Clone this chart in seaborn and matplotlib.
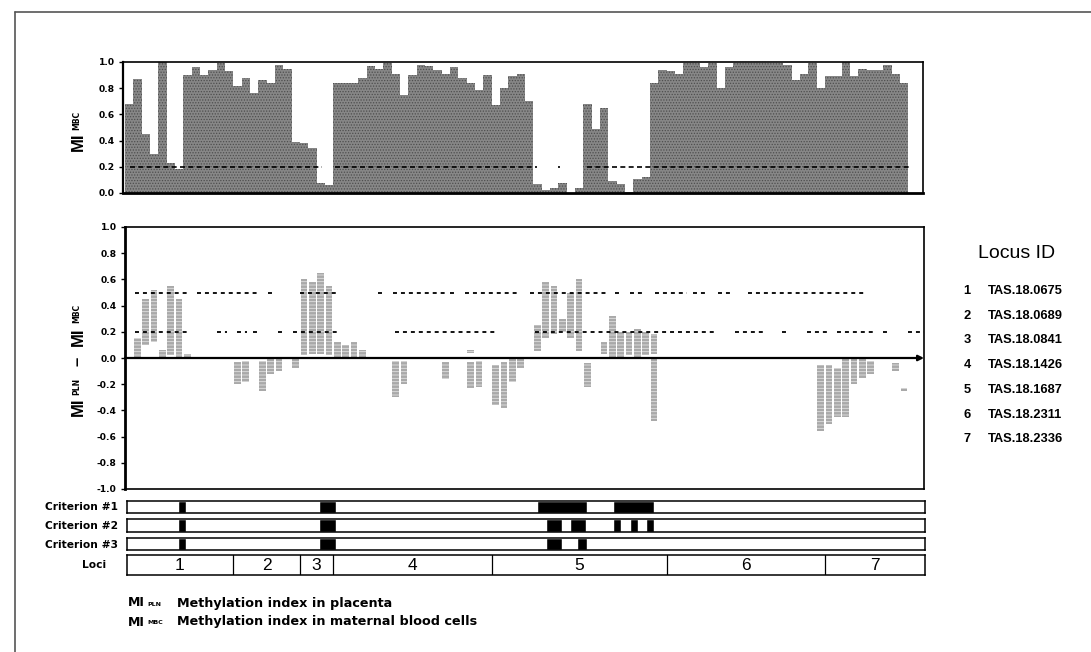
import matplotlib
matplotlib.use("Agg")
import matplotlib.pyplot as plt
import numpy as np
import pandas as pd
import seaborn as sns

sns.set_theme(style="white")
plt.rcParams["font.family"] = ["Liberation Sans", "DejaVu Sans"]
plt.rcParams["hatch.linewidth"] = 0.6
plt.rcParams["text.color"] = "black"
plt.rcParams["ytick.color"] = "black"
plt.rcParams["ytick.labelcolor"] = "black"

W, H = 1091, 652
SITE_PX = 8.333      # horizontal pixels per CpG site
X0_PX = 125          # pixel position of site 0

# ---------------------------------------------------------------- data
# methylation index in maternal blood cells, one value per CpG site
mi_mbc = [0.68, 0.87, 0.45, 0.30, 1.00, 0.23, 0.18, 0.90, 0.96, 0.90,
          0.94, 0.99, 0.93, 0.82, 0.88, 0.76, 0.86, 0.84, 0.98, 0.95,
          0.39, 0.38, 0.34, 0.08, 0.06, 0.84, 0.84, 0.84, 0.88, 0.97,
          0.95, 0.99, 0.91, 0.75, 0.90, 0.98, 0.97, 0.94, 0.91, 0.96,
          0.88, 0.84, 0.79, 0.90, 0.67, 0.80, 0.89, 0.91, 0.70, 0.07,
          0.02, 0.04, 0.08, 0.00, 0.04, 0.68, 0.49, 0.65, 0.09, 0.07,
          0.01, 0.11, 0.12, 0.84, 0.94, 0.93, 0.91, 0.99, 0.99, 0.96,
          0.99, 0.80, 0.96, 0.99, 0.99, 0.99, 0.99, 0.99, 0.99, 0.98,
          0.86, 0.91, 0.99, 0.80, 0.89, 0.89, 1.00, 0.89, 0.95, 0.94,
          0.94, 0.98, 0.91, 0.84, 0.00, 0.00]

# MI(PLN) - MI(MBC): spread of sample values at each site (site centre, low, high)
diff_site = [1.5, 2.5, 3.5, 4.5, 5.5, 6.5, 7.5,
             21.5, 22.5, 23.5, 24.5, 25.5, 26.5, 27.5, 28.5,
             41.5, 49.5, 50.5, 51.5, 52.5, 53.5, 54.5,
             57.5, 58.5, 59.5, 60.5, 61.5, 62.5, 63.5,
             13.5, 14.5, 16.5, 17.5, 18.5, 20.5,
             32.5, 33.5, 38.5, 41.5, 42.5, 44.5, 45.5, 46.5, 47.5,
             55.5, 63.5, 83.5, 84.5, 85.5, 86.5, 87.5, 88.5, 89.5, 92.5, 93.5]
diff_low = [0.01, 0.10, 0.12, 0.00, 0.02, 0.00, 0.00,
            0.02, 0.03, 0.03, 0.02, 0.00, 0.00, 0.00, 0.00,
            0.04, 0.05, 0.15, 0.18, 0.20, 0.15, 0.05,
            0.03, 0.00, 0.00, 0.02, 0.00, 0.02, 0.03,
            -0.20, -0.18, -0.25, -0.12, -0.10, -0.08,
            -0.30, -0.20, -0.16, -0.23, -0.22, -0.36, -0.38, -0.18, -0.08,
            -0.22, -0.48, -0.56, -0.50, -0.45, -0.45, -0.20, -0.15, -0.12, -0.10, -0.25]
diff_high = [0.15, 0.45, 0.52, 0.06, 0.55, 0.45, 0.03,
             0.60, 0.58, 0.65, 0.55, 0.12, 0.10, 0.12, 0.06,
             0.06, 0.25, 0.58, 0.55, 0.30, 0.50, 0.60,
             0.12, 0.32, 0.20, 0.20, 0.22, 0.20, 0.18,
             -0.03, -0.02, -0.02, -0.01, 0.00, -0.01,
             -0.02, -0.02, -0.03, -0.03, -0.02, -0.05, -0.03, -0.01, -0.01,
             -0.04, -0.01, -0.05, -0.05, -0.08, 0.00, 0.00, -0.01, -0.02, -0.04, -0.23]

# cut-off of 0.2 for MI(MBC): site spans where it applies
mbc_cut_spans = [(0.6, 23.6), (25.2, 49.4), (52.0, 52.25), (55.4, 94.4)]
# cut-offs 0.5 and 0.2 for the difference
diff_cut05_spans = [(1.2, 7.4), (8.6, 16.2), (17.2, 17.6), (21.0, 25.4), (30.4, 30.8),
                    (32.2, 38.7), (39.0, 39.8), (40.8, 47.0), (48.6, 57.9), (58.8, 59.4),
                    (60.6, 62.2), (63.6, 67.4), (68.2, 69.8), (71.2, 72.6), (74.8, 88.8)]
diff_cut02_spans = [(1.2, 7.4), (11.0, 12.2), (13.4, 14.6), (15.4, 15.8), (18.4, 18.8),
                    (20.2, 25.4), (32.4, 44.4), (49.2, 71.0), (73.2, 76.8), (78.8, 79.4),
                    (81.8, 84.2), (85.4, 89.8), (91.0, 91.6), (94.0, 96.0)]

# sites passing each selection criterion (start, end)
criterion_spans = {
    "Criterion #1": [(6.4, 7.3), (23.3, 25.3), (49.4, 55.4), (58.6, 63.5)],
    "Criterion #2": [(6.4, 7.3), (23.3, 25.3), (50.5, 52.4), (53.4, 55.3),
                     (58.6, 59.5), (60.6, 61.6), (62.5, 63.5)],
    "Criterion #3": [(6.4, 7.3), (23.3, 25.3), (50.5, 52.4), (54.3, 55.4)],
}

locus_labels = ["1", "2", "3", "4", "5", "6", "7"]
locus_sites = [13, 8, 4, 19, 21, 19, 12]
locus_ids = ["TAS.18.0675", "TAS.18.0689", "TAS.18.0841", "TAS.18.1426",
             "TAS.18.1687", "TAS.18.2311", "TAS.18.2336"]

# ---------------------------------------------------------------- layout helpers
fig = plt.figure(figsize=(W / 100, H / 100), dpi=100)


def px_axes(x0, y0, x1, y1):
    ax = fig.add_axes([x0 / W, 1 - y1 / H, (x1 - x0) / W, (y1 - y0) / H])
    ax.set_xlim((x0 - X0_PX) / SITE_PX, (x1 - X0_PX) / SITE_PX)
    return ax


def ftext(x, y, s, **kw):
    fig.text(x / W, 1 - y / H, s, **kw)


def tick_fmt(v):
    return f"{abs(v):.1f}" if abs(v) < 1e-9 else f"{v:.1f}"


BOLD_WIDE = ["DejaVu Sans"]
TICK_FONT = dict(fontsize=6.6, fontweight="bold", family=BOLD_WIDE)

# ---------------------------------------------------------------- top panel: MI(MBC)
ax1 = px_axes(123, 62, 923, 193)
df_top = pd.DataFrame({"site": np.arange(len(mi_mbc)) + 0.5, "mi": mi_mbc})
sns.barplot(data=df_top, x="site", y="mi", native_scale=True, width=1.0,
            color="#878787", saturation=1, ax=ax1, errorbar=None)
for p in ax1.patches:
    p.set_hatch("......")
    p.set_edgecolor("#4e4e4e")
    p.set_linewidth(0)
for a, b in mbc_cut_spans:
    ax1.plot([a, b], [0.2, 0.2], color="black", lw=1.2, ls=(0, (3, 2)))
ax1.set_xlim((123 - X0_PX) / SITE_PX, (923 - X0_PX) / SITE_PX)
ax1.set_ylim(0, 1.0)
yt1 = np.round(np.arange(0, 1.01, 0.2), 1)
ax1.set_yticks(yt1)
ax1.set_yticklabels([tick_fmt(v) for v in yt1], **TICK_FONT)
ax1.set_xticks([])
ax1.set_xlabel("")
ax1.set_ylabel("")
ax1.tick_params(axis="y", direction="out", length=3, width=1, pad=3, left=True)
for s in ax1.spines.values():
    s.set_color("black")
    s.set_linewidth(1.2)
ax1.spines["bottom"].set_linewidth(2)
ax1.spines["left"].set_linewidth(1.6)

# ---------------------------------------------------------------- middle panel: difference
ax2 = px_axes(125, 227, 924, 489)
ax2.bar(diff_site, np.array(diff_high) - np.array(diff_low), bottom=diff_low,
        width=0.8, color="#a9a9a9", hatch="-----", edgecolor="#e2e2e2", linewidth=0)
for a, b in diff_cut05_spans:
    ax2.plot([a, b], [0.5, 0.5], color="black", lw=1.3, ls=(0, (2.2, 2.2)))
for a, b in diff_cut02_spans:
    ax2.plot([a, b], [0.2, 0.2], color="black", lw=1.3, ls=(0, (2.2, 2.2)))
xl = ax2.get_xlim()
ax2.annotate("", xy=(xl[1], 0), xytext=(xl[0], 0),
             arrowprops=dict(arrowstyle="-|>", color="black", lw=1.6,
                             mutation_scale=8, shrinkA=0, shrinkB=0))
ax2.set_ylim(-1.0, 1.0)
yt = np.round(np.arange(-1.0, 1.01, 0.2), 1)
ax2.set_yticks(yt)
ax2.set_yticklabels([tick_fmt(v) for v in yt], **TICK_FONT)
ax2.set_xticks([])
ax2.tick_params(axis="y", direction="out", length=3, width=1, pad=3, left=True)
for s in ax2.spines.values():
    s.set_color("black")
    s.set_linewidth(1.2)
ax2.spines["left"].set_linewidth(2)

# ---------------------------------------------------------------- criterion rows
rows_px = [(501, 513), (519, 532), (538, 550)]
for (name, spans), (y0, y1) in zip(criterion_spans.items(), rows_px):
    axc = px_axes(127, y0, 925, y1)
    axc.broken_barh([(a, b - a) for a, b in spans], (0, 1), facecolors="black")
    axc.set_ylim(0, 1)
    axc.set_xticks([])
    axc.set_yticks([])
    for s in axc.spines.values():
        s.set_color("black")
        s.set_linewidth(1.1)
    ftext(118, (y0 + y1) / 2 + 0.5, name, ha="right", va="center",
          fontsize=7.7, fontweight="bold", family=BOLD_WIDE)

# ---------------------------------------------------------------- loci row
axl = px_axes(127, 555, 925, 575)
axl.set_ylim(0, 1)
axl.set_xticks([])
axl.set_yticks([])
for s in axl.spines.values():
    s.set_color("black")
    s.set_linewidth(1.1)
edges = np.concatenate([[0], np.cumsum(locus_sites)])
for e in edges[1:-1]:
    axl.axvline(e, color="black", lw=0.9)
for lab, a, b in zip(locus_labels, edges[:-1], edges[1:]):
    axl.text((a + b) / 2, 0.47, lab, ha="center", va="center", fontsize=12.5)
ftext(94, 565.5, "Loci", ha="center", va="center", fontsize=7.7, fontweight="bold",
      family=BOLD_WIDE)

# ---------------------------------------------------------------- y labels
ftext(78, 142, "MI", rotation=90, ha="center", va="center", fontsize=12, fontweight="bold")
ftext(77, 120, "MBC", rotation=90, ha="center", va="center", fontsize=5.5, fontweight="bold",
      family=BOLD_WIDE)

ftext(78, 407, "MI", rotation=90, ha="center", va="center", fontsize=12, fontweight="bold")
ftext(77, 386, "PLN", rotation=90, ha="center", va="center", fontsize=5.5, fontweight="bold",
      family=BOLD_WIDE)
ftext(78, 361, "\u2013", rotation=90, ha="center", va="center", fontsize=12, fontweight="bold")
ftext(78, 337, "MI", rotation=90, ha="center", va="center", fontsize=12, fontweight="bold")
ftext(77, 313, "MBC", rotation=90, ha="center", va="center", fontsize=5.5, fontweight="bold",
      family=BOLD_WIDE)

# ---------------------------------------------------------------- locus id key
ftext(1017, 254, "Locus ID", ha="center", va="center", fontsize=14)
for k, (lab, lid) in enumerate(zip(locus_labels, locus_ids)):
    yy = 291 + k * 24.7
    ftext(967, yy, lab, ha="center", va="center", fontsize=9.3, fontweight="bold")
    ftext(988, yy, lid, ha="left", va="center", fontsize=9.3, fontweight="bold")

# ---------------------------------------------------------------- abbreviations
ftext(128, 603, "MI", ha="left", va="center", fontsize=9, fontweight="bold",
      family=BOLD_WIDE)
ftext(147, 604, "PLN", ha="left", va="center", fontsize=4.5, fontweight="bold",
      family=BOLD_WIDE)
ftext(177, 603, "Methylation index in placenta", ha="left", va="center",
      fontsize=9.2, fontweight="bold", family=BOLD_WIDE)
ftext(128, 622, "MI", ha="left", va="center", fontsize=9, fontweight="bold",
      family=BOLD_WIDE)
ftext(147, 623, "MBC", ha="left", va="center", fontsize=4.5, fontweight="bold",
      family=BOLD_WIDE)
ftext(177, 622, "Methylation index in maternal blood cells", ha="left", va="center",
      fontsize=9.2, fontweight="bold", family=BOLD_WIDE)

# outer frame of the figure panel
fig.add_artist(plt.Line2D([15 / W, 1.0], [1 - 12 / H, 1 - 12 / H], color="#555555", lw=1.2))
fig.add_artist(plt.Line2D([15 / W, 15 / W], [1 - 12 / H, 0.0], color="#555555", lw=1.2))

fig.savefig("out.png", dpi=100, facecolor="white")
